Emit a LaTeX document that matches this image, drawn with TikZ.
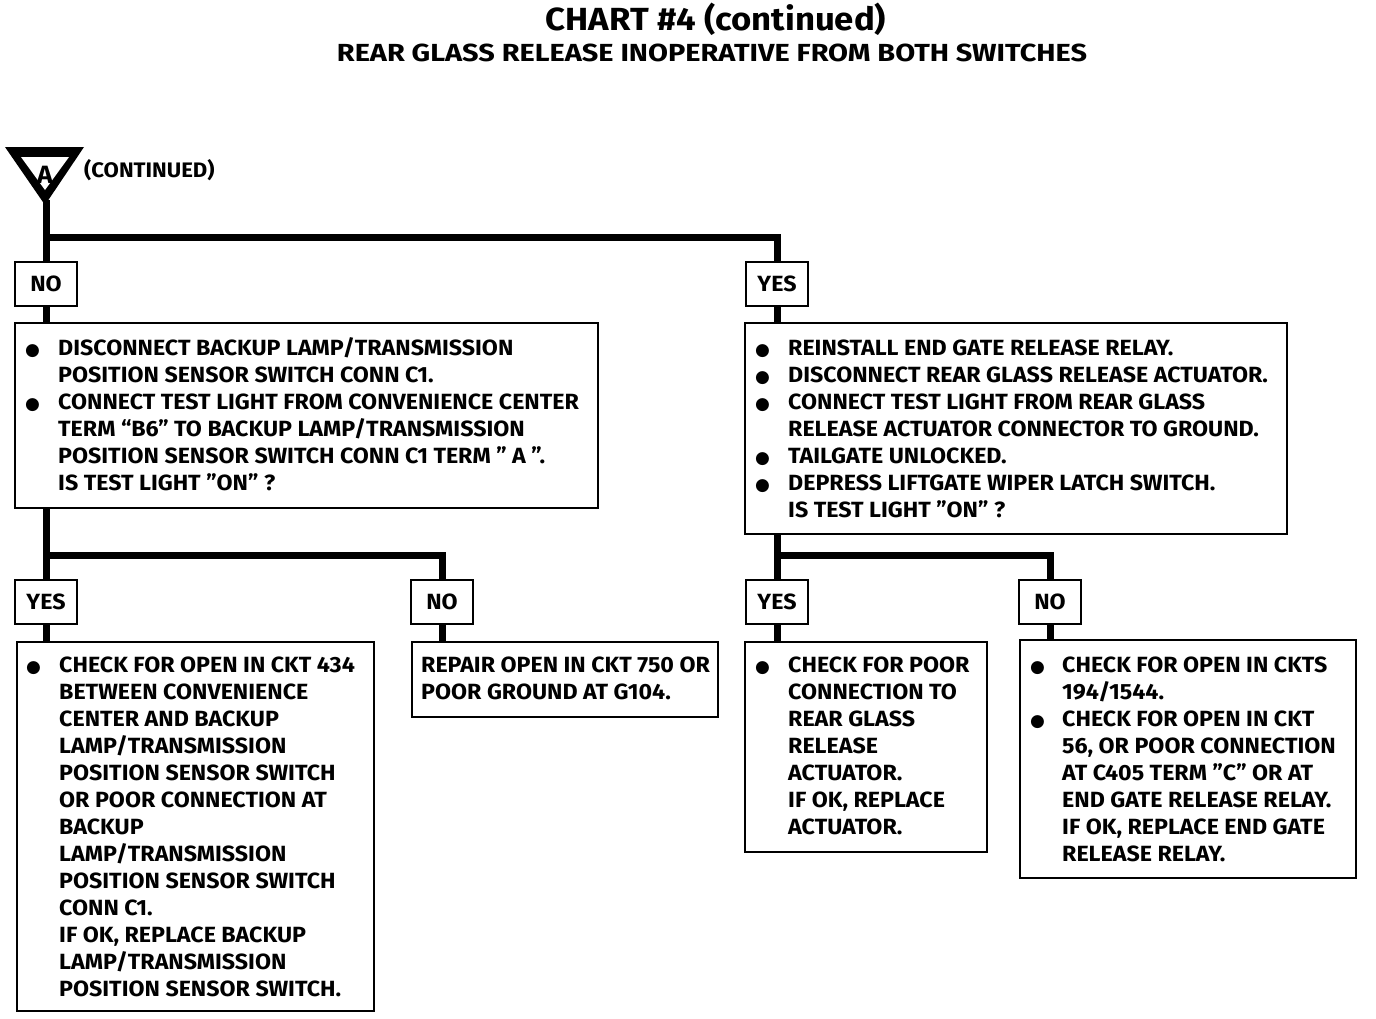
\documentclass[tikz,border=0pt]{standalone}
\usepackage{fontspec}
\setmainfont{Fira Sans}
\newfontfamily\bodyfam{Fira Sans}[FakeStretch=1.055]
\newfontfamily\titlefam{Fira Sans}[FakeStretch=1.085]
\newfontfamily\subfam{Fira Sans}[FakeStretch=1.17]
\newfontfamily\dejavu{DejaVu Sans}
\usetikzlibrary{calc}
\newcommand{\bodyfont}{\bodyfam\fontsize{22}{27}\selectfont\bfseries}
\newcommand{\lblfont}{\bodyfam\fontsize{22}{24}\selectfont\bfseries}
\newcommand{\bul}{{\dejavu\fontsize{17}{17}\selectfont ●}}
\newenvironment{blist}[1]{\begin{tabular}{@{}p{#1}@{}l@{}}}{\end{tabular}}
\begin{document}
\begin{tikzpicture}[x=1pt,y=-1pt,
 conn/.style={line width=7pt},
 box/.style={draw, line width=1.8pt, inner sep=0pt, anchor=north west},
 lbl/.style={draw, line width=1.8pt, minimum width=62pt, minimum height=44pt, inner sep=0pt, font=\lblfont},
 txt/.style={inner sep=0pt, anchor=north west, font=\bodyfont}]
\useasboundingbox (0,0) rectangle (1376,1018);
\fill[white] (0,0) rectangle (1376,1018);

% titles
\node[font=\titlefam\fontsize{32}{34}\selectfont\bfseries] (title) at (716,19) {CHART \#4 (continued)};
\node[font=\subfam\fontsize{24.7}{27}\selectfont\bfseries] (subtitle) at (712,53) {REAR GLASS RELEASE INOPERATIVE FROM BOTH SWITCHES};

% start symbol
\fill[black] (5,147) -- (84,147) -- (45,205) -- cycle;
\fill[white] (21,157) -- (69,157) -- (45,190) -- cycle;
\node[font=\bodyfam\fontsize{25}{25}\selectfont\bfseries, inner sep=0pt] (letA) at (45,174.5) {A};
\node[font=\bodyfam\fontsize{21}{24}\selectfont\bfseries, anchor=west, inner sep=0pt] (cont) at (84,170) {(CONTINUED)};
\coordinate (apex) at (46,200);
\coordinate (j1) at (46,237);
\coordinate (j2) at (46,555);
\coordinate (j3) at (777,555);

% labels
\node[lbl] (nol) at (46,284) {NO};
\node[lbl] (yesr) at (777,284) {YES};
\node[lbl] (yesl) at (46,602) {YES};
\node[lbl] (nolb) at (442,602) {NO};
\node[lbl] (yesr2) at (777,602) {YES};
\node[lbl] (nor2) at (1050,602) {NO};

% boxes
\node[box, minimum width=583pt, minimum height=185pt] (b1) at (14,322) {};
\node[box, minimum width=542pt, minimum height=211pt] (b2) at (744,322) {};
\node[box, minimum width=357pt, minimum height=369pt] (b3) at (16,641) {};
\node[box, minimum width=306pt, minimum height=75pt] (b4) at (411,641) {};
\node[box, minimum width=242pt, minimum height=210pt] (b5) at (744,641) {};
\node[box, minimum width=336pt, minimum height=238pt] (b6) at (1019,639) {};

% connectors
\draw[conn] (apex) -- (nol.north);
\draw[conn] (j1) -| (yesr.north);
\draw[conn] (nol.south) -- (nol.south |- b1.north);
\draw[conn] (yesr.south) -- (yesr.south |- b2.north);
\draw[conn] (b1.south -| yesl.north) -- (yesl.north);
\draw[conn] (j2) -| (nolb.north);
\draw[conn] (yesl.south) -- (yesl.south |- b3.north);
\draw[conn] (nolb.south) -- (nolb.south |- b4.north);
\draw[conn] (b2.south -| yesr2.north) -- (yesr2.north);
\draw[conn] (j3) -| (nor2.north);
\draw[conn] (yesr2.south) -- (yesr2.south |- b5.north);
\draw[conn] (nor2.south) -- (nor2.south |- b6.north);

% texts
\node[txt] (t1) at (25,336.5) {\begin{blist}{33pt}
\bul & DISCONNECT BACKUP LAMP/TRANSMISSION\\
 & POSITION SENSOR SWITCH CONN C1.\\
\bul & CONNECT TEST LIGHT FROM CONVENIENCE CENTER\\
 & TERM “B6” TO BACKUP LAMP/TRANSMISSION\\
 & POSITION SENSOR SWITCH CONN C1 TERM ” A ”.\\
 & IS TEST LIGHT ”ON” ?
\end{blist}};

\node[txt] (t2) at (755,336.5) {\begin{blist}{33pt}
\bul & REINSTALL END GATE RELEASE RELAY.\\
\bul & DISCONNECT REAR GLASS RELEASE ACTUATOR.\\
\bul & CONNECT TEST LIGHT FROM REAR GLASS\\
 & RELEASE ACTUATOR CONNECTOR TO GROUND.\\
\bul & TAILGATE UNLOCKED.\\
\bul & DEPRESS LIFTGATE WIPER LATCH SWITCH.\\
 & IS TEST LIGHT ”ON” ?
\end{blist}};

\node[txt] (t3) at (26,653.5) {\begin{blist}{33pt}
\bul & CHECK FOR OPEN IN CKT 434\\
 & BETWEEN CONVENIENCE\\
 & CENTER AND BACKUP\\
 & LAMP/TRANSMISSION\\
 & POSITION SENSOR SWITCH\\
 & OR POOR CONNECTION AT\\
 & BACKUP\\
 & LAMP/TRANSMISSION\\
 & POSITION SENSOR SWITCH\\
 & CONN C1.\\
 & IF OK, REPLACE BACKUP\\
 & LAMP/TRANSMISSION\\
 & POSITION SENSOR SWITCH.
\end{blist}};

\node[txt] (t4) at (421,653.5) {\begin{tabular}{@{}l@{}}
REPAIR OPEN IN CKT 750 OR\\
POOR GROUND AT G104.
\end{tabular}};

\node[txt] (t5) at (755,653.5) {\begin{blist}{33pt}
\bul & CHECK FOR POOR\\
 & CONNECTION TO\\
 & REAR GLASS\\
 & RELEASE\\
 & ACTUATOR.\\
 & IF OK, REPLACE\\
 & ACTUATOR.
\end{blist}};

\node[txt] (t6) at (1030,653.5) {\begin{blist}{32pt}
\bul & CHECK FOR OPEN IN CKTS\\
 & 194/1544.\\
\bul & CHECK FOR OPEN IN CKT\\
 & 56, OR POOR CONNECTION\\
 & AT C405 TERM ”C” OR AT\\
 & END GATE RELEASE RELAY.\\
 & IF OK, REPLACE END GATE\\
 & RELEASE RELAY.
\end{blist}};
\end{tikzpicture}
\end{document}
